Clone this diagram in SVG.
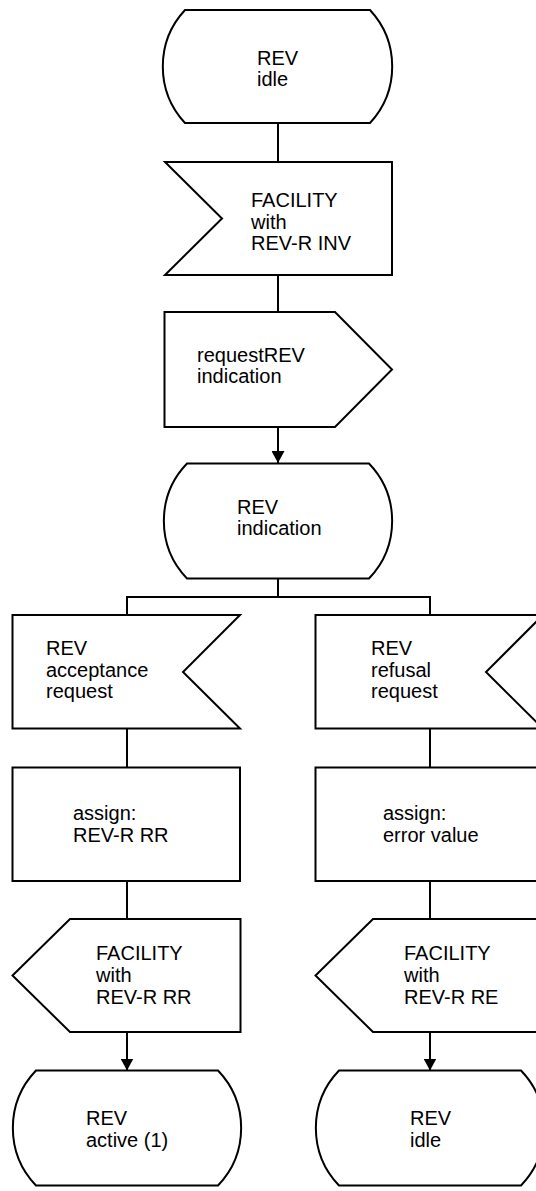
<svg xmlns="http://www.w3.org/2000/svg" width="536" height="1191" viewBox="0 0 536 1191">
<style>
.s{fill:#fff;stroke:#000;stroke-width:2;stroke-linejoin:miter}
.c{fill:none;stroke:#000;stroke-width:2}
text{font-family:"Liberation Sans",Arial,sans-serif;font-size:20px;fill:#000}
</style>
<defs>
<marker id="ah" markerUnits="userSpaceOnUse" markerWidth="13" markerHeight="13" refX="12" refY="6.5" orient="auto">
<path d="M0,0 L12,6.5 L0,13 Z" fill="#000"/>
</marker>
</defs>
<g id="connectors">
<line class="c" x1="278" y1="123" x2="278" y2="162"/>
<line class="c" x1="278" y1="275" x2="278" y2="312"/>
<line class="c" x1="278" y1="427" x2="278" y2="463" marker-end="url(#ah)"/>
<polyline class="c" points="278,578 278,597"/>
<polyline class="c" points="127,615 127,597 430,597 430,615"/>
<line class="c" x1="127" y1="728" x2="127" y2="767"/>
<line class="c" x1="430" y1="728" x2="430" y2="767"/>
<line class="c" x1="127" y1="881" x2="127" y2="919"/>
<line class="c" x1="430" y1="881" x2="430" y2="919"/>
<line class="c" x1="127" y1="1032" x2="127" y2="1070.5" marker-end="url(#ah)"/>
<line class="c" x1="430" y1="1032" x2="430" y2="1070.5" marker-end="url(#ah)"/>
</g>
<g id="state-idle-top">
<path class="s" d="M185,10 L370,10 A83,83 0 0 1 370,123 L185,123 A83,83 0 0 1 185,10 Z"/>
<text x="257" y="65">REV</text>
<text x="257" y="86">idle</text>
</g>
<g id="input-facility-inv">
<path class="s" d="M165,162 L392,162 L392,275 L165,275 L222,218.5 Z"/>
<text x="251" y="207">FACILITY</text>
<text x="251" y="228.5">with</text>
<text x="251" y="250">REV-R INV</text>
</g>
<g id="output-request">
<path class="s" d="M164.5,312 L335,312 L392,369.5 L335,427 L164.5,427 Z"/>
<text x="197" y="361.5">requestREV</text>
<text x="197" y="383">indication</text>
</g>
<g id="state-indication">
<path class="s" d="M187,463.5 L369,463.5 A83,83 0 0 1 369,578.5 L187,578.5 A83,83 0 0 1 187,463.5 Z"/>
<text x="237" y="513.5">REV</text>
<text x="237" y="535">indication</text>
</g>
<g id="input-acceptance">
<path class="s" d="M12.5,615 L240,615 L183,672 L240,728.5 L12.5,728.5 Z"/>
<text x="46" y="655">REV</text>
<text x="46" y="676.5">acceptance</text>
<text x="46" y="698">request</text>
</g>
<g id="input-refusal">
<path class="s" d="M315.5,615 L543,615 L486,672 L543,728.5 L315.5,728.5 Z"/>
<text x="371" y="655">REV</text>
<text x="371" y="676.5">refusal</text>
<text x="371" y="698">request</text>
</g>
<g id="task-assign-rr">
<rect class="s" x="12.5" y="767.5" width="227.5" height="113.5"/>
<text x="73" y="820">assign:</text>
<text x="73" y="841.5">REV-R RR</text>
</g>
<g id="task-assign-error">
<rect class="s" x="315.5" y="767.5" width="227.5" height="113.5"/>
<text x="383" y="820">assign:</text>
<text x="383" y="841.5">error value</text>
</g>
<g id="output-facility-rr">
<path class="s" d="M70,919 L240.5,919 L240.5,1032 L70,1032 L12.5,975.5 Z"/>
<text x="96" y="959.5">FACILITY</text>
<text x="96" y="981.5">with</text>
<text x="96" y="1003.5">REV-R RR</text>
</g>
<g id="output-facility-re">
<path class="s" d="M373,919 L543.5,919 L543.5,1032 L373,1032 L315.5,975.5 Z"/>
<text x="404" y="959.5">FACILITY</text>
<text x="404" y="981.5">with</text>
<text x="404" y="1003.5">REV-R RE</text>
</g>
<g id="state-active">
<path class="s" d="M36,1070.5 L218,1070.5 A83,83 0 0 1 218,1185.5 L36,1185.5 A83,83 0 0 1 36,1070.5 Z"/>
<text x="86" y="1125">REV</text>
<text x="86" y="1146.5">active (1)</text>
</g>
<g id="state-idle-bottom">
<path class="s" d="M339,1070.5 L521,1070.5 A83,83 0 0 1 521,1185.5 L339,1185.5 A83,83 0 0 1 339,1070.5 Z"/>
<text x="410" y="1125">REV</text>
<text x="410" y="1146.5">idle</text>
</g>
</svg>
